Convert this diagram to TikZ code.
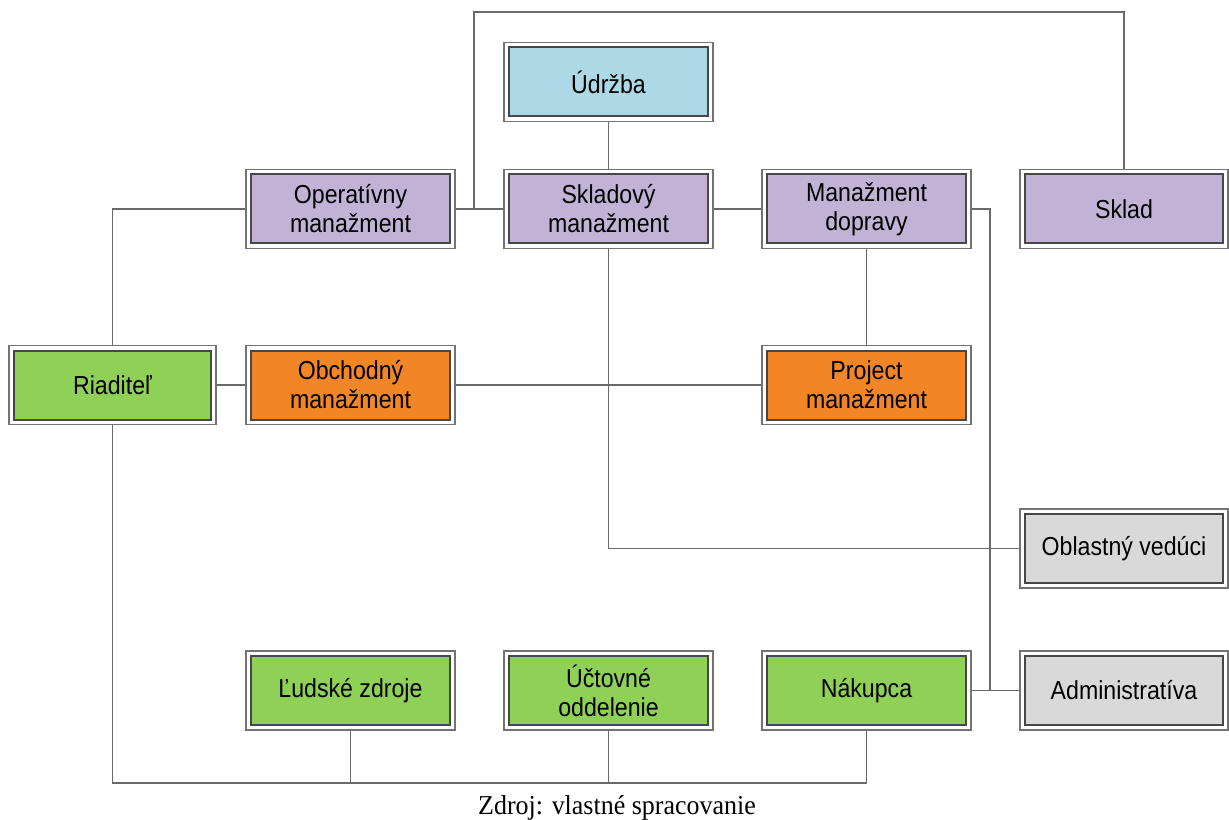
\documentclass[tikz,border=0pt]{standalone}
\usepackage{fontspec}
\setmainfont{Liberation Sans}[FakeStretch=0.89]
\newfontfamily\capfont{Liberation Serif}[FakeStretch=0.95]
\definecolor{cpurple}{HTML}{C0B3D6}
\definecolor{cgreen}{HTML}{8FD057}
\definecolor{corange}{HTML}{F28627}
\definecolor{cblue}{HTML}{ADD8E6}
\definecolor{cgray}{HTML}{D9D9D9}
\definecolor{cline}{HTML}{6A6A6A}
\tikzset{
  orgbox/.style={draw=black!55, line width=0.8pt, fill=white,
    minimum width=156.75pt, minimum height=59.25pt, inner sep=0pt,
    align=center, font=\fontsize{19.5pt}{21.75pt}\selectfont,
    path picture={\draw[draw=black!72, line width=1.5pt, fill=#1]
      ([xshift=3.75pt,yshift=-3.75pt]path picture bounding box.north west) rectangle
      ([xshift=-3.75pt,yshift=3.75pt]path picture bounding box.south east);}},
  conn/.style={draw=cline, line width=1.1pt}
}
\begin{document}
\begin{tikzpicture}[x=0.75pt,y=-0.75pt]
\useasboundingbox (0,0) rectangle (1229,820);
% nodes
\node[orgbox=cgreen, minimum width=155.25pt] (riad) at (112.5,385) {Riaditeľ};
\node[orgbox=cpurple] (oper) at (350.5,209) {Operatívny\\manažment};
\node[orgbox=cpurple] (sklm) at (608.5,209) {Skladový\\manažment};
\node[orgbox=cpurple] (mdop) at (866.5,209) {Manažment\\dopravy};
\node[orgbox=cpurple, minimum width=156pt] (sklad) at (1124,209) {Sklad};
\node[orgbox=cblue] (udr) at (608.5,82) {Údržba};
\node[orgbox=corange] (obch) at (350.5,385) {Obchodný\\manažment};
\node[orgbox=corange] (proj) at (866.5,385) {Project\\manažment};
\node[orgbox=cgray, minimum width=156pt] (obl) at (1124,548.5) {Oblastný vedúci};
\node[orgbox=cgray, minimum width=156pt] (adm) at (1124,690.5) {Administratíva};
\node[orgbox=cgreen] (lud) at (350.5,690.5) {Ľudské zdroje};
\node[orgbox=cgreen] (uct) at (608.5,690.5) {Účtovné\\oddelenie};
\node[orgbox=cgreen] (nak) at (866.5,690.5) {Nákupca};
\node[font=\capfont\fontsize{20.5pt}{22pt}\selectfont, inner sep=0pt, anchor=base] (cap) at (617,814) {Zdroj: vlastné spracovanie};
% connectors
\coordinate (tl) at (474,12);
\coordinate (rv) at (990,209);
\coordinate (bl) at (112.5,783);
\draw[conn] (riad.north) |- (oper.west);
\draw[conn] (riad.east) -- (obch.west);
\draw[conn] (obch.east) -- (proj.west);
\draw[conn] (oper.east) -- (sklm.west);
\draw[conn] (tl |- oper.east) -- (tl) -| (sklad.north);
\draw[conn] (udr.south) -- (sklm.north);
\draw[conn] (sklm.east) -- (mdop.west);
\draw[conn] (mdop.south) -- (proj.north);
\draw[conn] (sklm.south) |- (obl.west);
\draw[conn] (mdop.east) -- (rv) -- (rv |- adm.west);
\draw[conn] (nak.east) -- (adm.west);
\draw[conn] (riad.south) -- (bl) -| (nak.south);
\draw[conn] (lud.south) -- (lud.south |- bl);
\draw[conn] (uct.south) -- (uct.south |- bl);
\end{tikzpicture}
\end{document}
